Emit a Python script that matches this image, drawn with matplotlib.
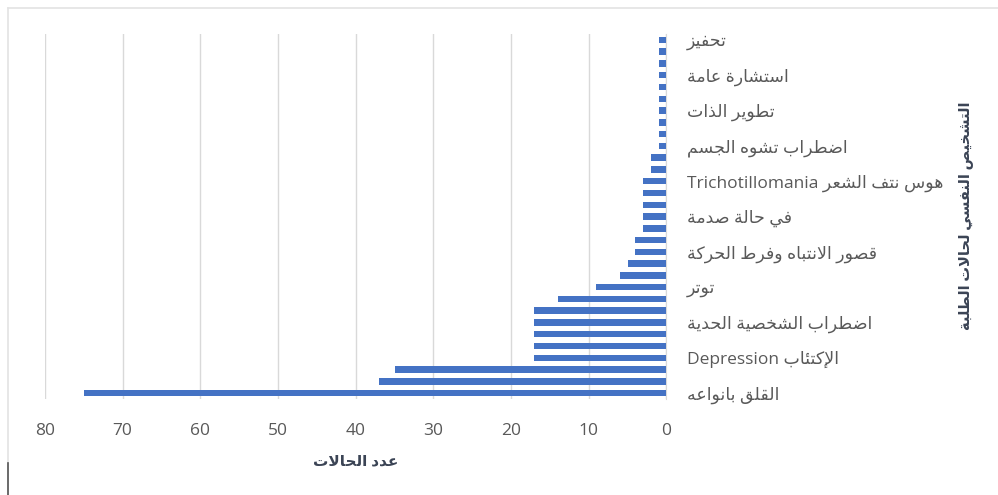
import re
import numpy as np
import matplotlib
matplotlib.use('Agg')
import matplotlib.pyplot as plt
from matplotlib.lines import Line2D

plt.rcParams['font.family'] = ['Open Sans', 'DejaVu Sans']

# cases per diagnosis, bottom bar first (31 bars, every 3rd one labelled)
counts = [75, 37, 35, 17, 17, 17, 17, 17, 14, 9, 6, 5, 4, 4, 3,
          3, 3, 3, 3, 2, 2, 1, 1, 1, 1, 1, 1, 1, 1, 1, 1]
shown_labels = ['القلق بانواعه', 'الإكتئاب Depression', 'اضطراب الشخصية الحدية',
                'توتر', 'قصور الانتباه وفرط الحركة', 'في حالة صدمة',
                'هوس نتف الشعر Trichotillomania', 'اضطراب تشوه الجسم',
                'تطوير الذات', 'استشارة عامة', 'تحفيز']
label_step = 3
x_ticks = [0, 10, 20, 30, 40, 50, 60, 70, 80]
x_title = 'عدد الحالات'
y_title = 'التشخيص النفسي لحالات الطلبة'

# matplotlib has no arabic shaping, so map letters to presentation forms
FORMS = {}
code = 0xFE80
for ch, k in [('ء', 1), ('آ', 2), ('أ', 2), ('ؤ', 2), ('إ', 2), ('ئ', 4), ('ا', 2),
              ('ب', 4), ('ة', 2), ('ت', 4), ('ث', 4), ('ج', 4), ('ح', 4), ('خ', 4),
              ('د', 2), ('ذ', 2), ('ر', 2), ('ز', 2), ('س', 4), ('ش', 4), ('ص', 4),
              ('ض', 4), ('ط', 4), ('ظ', 4), ('ع', 4), ('غ', 4), ('ف', 4), ('ق', 4),
              ('ك', 4), ('ل', 4), ('م', 4), ('ن', 4), ('ه', 4), ('و', 2), ('ى', 2),
              ('ي', 4)]:
    FORMS[ch] = (code, k)
    code += k
LAM_ALEF = {'آ': 0xFEF5, 'أ': 0xFEF7, 'إ': 0xFEF9, 'ا': 0xFEFB}


def joins_fwd(c):
    return c in FORMS and FORMS[c][1] == 4


def shape(text):
    out = []
    i = 0
    while i < len(text):
        c = text[i]
        if c not in FORMS:
            out.append(c)
            i += 1
            continue
        p = i > 0 and joins_fwd(text[i - 1])
        nxt = text[i + 1] if i + 1 < len(text) else ''
        if c == 'ل' and nxt in LAM_ALEF:
            out.append(chr(LAM_ALEF[nxt] + (1 if p else 0)))
            i += 2
            continue
        base, k = FORMS[c]
        n = k == 4 and nxt in FORMS and nxt != 'ء'
        if k == 1:
            f = 0
        elif k == 2:
            f = 1 if p else 0
        else:
            f = {(False, False): 0, (True, False): 1, (False, True): 2, (True, True): 3}[(p, n)]
        out.append(chr(base + f))
        i += 1
    return ''.join(out)


def ar(text):
    s = shape(text)[::-1]
    return re.sub(r'[A-Za-z0-9]+', lambda m: m.group(0)[::-1], s)


fig = plt.figure(figsize=(9.98, 4.95), dpi=100)
ax = fig.add_axes([0.0451, 0.1939, 0.6226, 0.7374])

y = np.arange(len(counts))
ax.barh(y, counts, height=0.55, color='#4472C4', zorder=3)

ax.set_xlim(80, 0)
ax.set_ylim(-0.5, len(counts) - 0.5)
ax.set_xticks(x_ticks)
ax.set_yticks(y[::label_step])
ax.set_yticklabels([ar(t) for t in shown_labels])
ax.yaxis.tick_right()

ax.grid(axis='x', color='#D9D9D9', linewidth=1, zorder=0)
for s in ['top', 'bottom', 'left']:
    ax.spines[s].set_visible(False)
ax.spines['right'].set_color('#D9D9D9')
ax.tick_params(axis='x', length=0, pad=17, labelsize=12.5, labelcolor='#595959')
ax.tick_params(axis='y', length=0, pad=15, labelsize=12.5, labelcolor='#595959')

ax.set_xlabel(ar(x_title), fontsize=11, fontweight='bold', color='#3B4455', labelpad=11)
fig.text(966 / 998, 1 - 216 / 495, ar(y_title), rotation=90, ha='center', va='center',
         fontsize=10.5, fontweight='bold', color='#3B4455')

# light frame of the original screenshot
fig.add_artist(Line2D([8 / 998, 1], [1 - 8 / 495] * 2, color='#E3E3E3', lw=1.2))
fig.add_artist(Line2D([8 / 998] * 2, [0, 1 - 8 / 495], color='#E3E3E3', lw=1.2))
fig.add_artist(Line2D([8 / 998] * 2, [0, 32 / 495], color='#555555', lw=1.2))

fig.savefig('out.png', dpi=100)
